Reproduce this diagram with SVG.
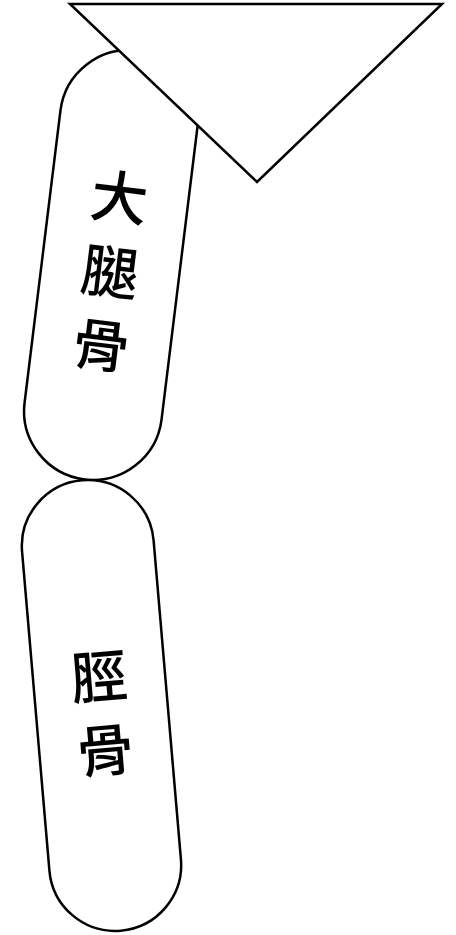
<svg xmlns="http://www.w3.org/2000/svg" width="456" height="935" viewBox="0 0 456 935">
<style>
.shape{fill:#fff;stroke:#000;stroke-width:2.5}
.lbl{font-family:"Noto Sans CJK TC","Noto Sans CJK SC",sans-serif;font-size:57px;font-weight:500;fill:#000;text-anchor:middle;dominant-baseline:central}
</style>
<rect width="456" height="935" fill="#fff"/>
<g id="femur" transform="translate(111,265) rotate(7)">
<rect class="shape" x="-69" y="-216" width="138" height="432" rx="69" ry="69"/>
<text class="lbl" x="0" y="-72">大</text>
<text class="lbl" x="0" y="3">腿</text>
<text class="lbl" x="0" y="77">骨</text>
</g>
<g id="tibia" transform="translate(101.5,705.5) rotate(-4.9)">
<rect class="shape" x="-66" y="-226" width="132" height="452" rx="66" ry="66"/>
<text class="lbl" x="0" y="-33">脛</text>
<text class="lbl" x="0" y="41">骨</text>
</g>
<g id="pelvis">
<polygon class="shape" points="70,4 442,4 257,182"/>
</g>
<g id="connectors"></g>
</svg>
